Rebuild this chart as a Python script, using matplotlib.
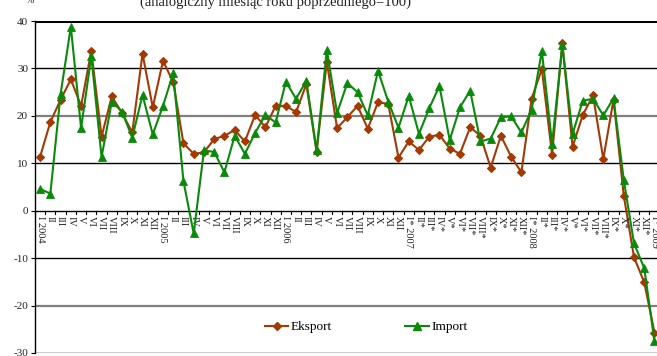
import matplotlib
matplotlib.use("Agg")
import matplotlib.pyplot as plt
from matplotlib.lines import Line2D

plt.rcParams['font.family'] = ['Liberation Serif', 'DejaVu Serif']

roman = ["I", "II", "III", "IV", "V", "VI", "VII", "VIII", "IX", "X", "XI", "XII"]

# Month labels: Jan 2004 .. Jan 2009 (data from 2007 on marked with *)
labels = []
for year in range(2004, 2010):
    for m in roman:
        star = "*" if year >= 2007 else ""
        if m == "I":
            labels.append(f"I{star} {year}")
        else:
            labels.append(f"{m}{star}")
labels = labels[:61]

eksport = [11.4, 18.7, 23.4, 27.7, 22.1, 33.7, 15.6, 24.1, 20.6, 16.5, 33.1, 21.8,
           31.6, 27.1, 14.2, 12.0, 12.3, 15.1, 15.8, 17.0, 14.6, 20.2, 17.6, 22.1,
           22.1, 20.8, 26.7, 12.4, 31.4, 17.4, 19.7, 22.1, 17.3, 22.9, 22.5, 11.2,
           14.6, 12.8, 15.6, 16.0, 13.1, 12.0, 17.6, 15.8, 9.1, 15.8, 11.4, 8.1,
           23.6, 29.9, 11.8, 35.3, 13.5, 20.2, 24.3, 10.9, 23.4, 3.2, -9.8, -15.1,
           -25.7]
import_ = [4.6, 3.6, 24.6, 38.8, 17.4, 32.6, 11.3, 23.0, 20.9, 15.4, 24.4, 16.1,
           22.1, 29.0, 6.2, -4.8, 12.7, 12.4, 8.1, 15.8, 12.0, 16.4, 20.2, 18.6,
           27.2, 23.6, 27.4, 12.7, 33.9, 20.6, 26.9, 25.0, 20.1, 29.5, 23.0, 17.5,
           24.2, 16.2, 21.6, 26.3, 14.9, 21.8, 25.3, 14.6, 15.2, 19.7, 19.9, 16.5,
           21.3, 33.7, 14.1, 34.9, 16.2, 23.2, 23.6, 20.1, 23.7, 6.5, -6.9, -12.1,
           -27.5]

yticks = [40, 30, 20, 10, 0, -10, -20, -30]

W, H = 657, 356
fig = plt.figure(figsize=(W / 100, H / 100), dpi=100)
left_px, right_px, top_px, bottom_px = 35, 659.6, 21, 353
ax = fig.add_axes([left_px / W, 1 - bottom_px / H,
                   (right_px - left_px) / W, (bottom_px - top_px) / H])

x = list(range(len(labels)))
c_eks = "#A33A05"
c_imp = "#0A8A0A"

# horizontal reference lines
for v in yticks:
    if v == 40:
        ax.axhline(v, color="black", lw=2.2, zorder=1)
    elif v in (20, -20):
        ax.axhline(v, color="#808080", lw=1.6, zorder=1)
    else:
        ax.axhline(v, color="black", lw=1.0, zorder=1)

ax.plot(x, eksport, color=c_eks, lw=1.5, marker="D", markersize=4.5,
        markeredgewidth=0.8, zorder=3, clip_on=False)
ax.plot(x, import_, color=c_imp, lw=1.5, marker="^", markersize=5.5,
        markeredgewidth=0.6, zorder=4, clip_on=False)

ax.set_xlim(-0.5, len(labels) - 0.5)
ax.set_ylim(-30, 40)

for s in ("top", "right", "bottom"):
    ax.spines[s].set_visible(False)
ax.spines["left"].set_linewidth(1.0)
ax.spines["left"].set_zorder(5)

ax.set_yticks(yticks)
ax.set_yticklabels([str(v) for v in yticks], fontsize=8, color="#222222")
ax.tick_params(axis="y", direction="out", length=3, width=0.8, pad=2)
ax.set_xticks([])

# category axis along the zero line: ticks between categories, labels below
for i in range(len(labels) + 1):
    ax.plot([i - 0.5, i - 0.5], [0, -0.7], color="black", lw=0.8,
            zorder=2, clip_on=False)
for i, lab in enumerate(labels):
    ax.text(i, -1.2, lab, rotation=-90, ha="center", va="top",
            fontsize=7.5, color="#222222", rotation_mode="default")

fig.text(275 / W, 1 - 5.5 / H, "(analogiczny miesiąc roku poprzedniego=100)",
         ha="center", va="baseline", fontsize=10.5, color="#222222")
fig.text(30 / W, 1 - 3 / H, "%", ha="center", va="baseline",
         fontsize=7, color="#222222")

handles = [
    Line2D([], [], color=c_eks, lw=1.5, marker="D", markersize=4.5),
    Line2D([], [], color=c_imp, lw=1.5, marker="^", markersize=5.5),
]
fig.legend(handles, ["Eksport", "Import"], loc="center",
           bbox_to_anchor=(366 / W, 1 - 327 / H), ncol=2, frameon=False,
           fontsize=9.5, handlelength=1.8, handletextpad=0.15,
           columnspacing=5.6)

fig.savefig("out.png", dpi=100)
